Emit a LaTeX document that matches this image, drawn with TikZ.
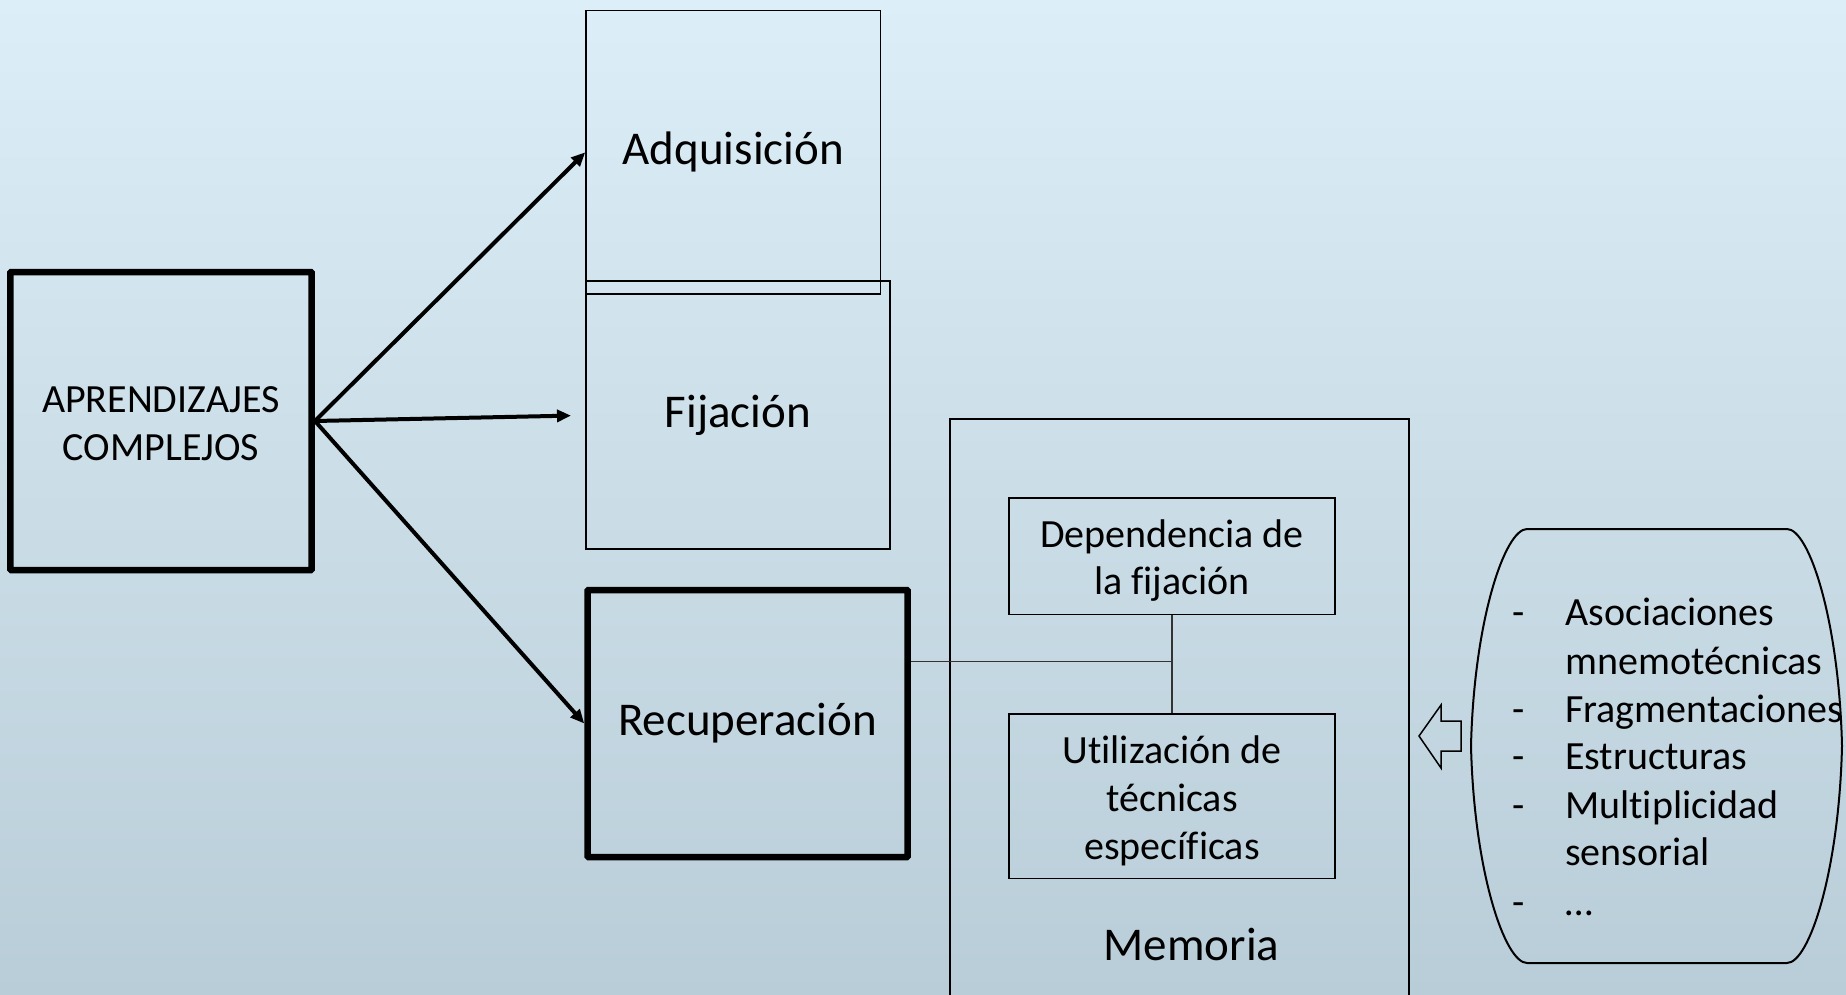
\documentclass[tikz,border=0pt]{standalone}
\usepackage{fontspec}
\setmainfont{Carlito}[Ligatures=CommonOff]
\usetikzlibrary{arrows.meta}
\definecolor{bgtop}{RGB}{220,238,247}
\definecolor{bgbot}{RGB}{185,205,216}
\begin{document}
\begin{tikzpicture}[x=1pt,y=-1pt,
  box/.style={draw=black, inner sep=0pt, line width=1.5pt},
  thickbox/.style={draw=black, inner sep=0pt, line width=6.5pt, rounded corners=1pt},
  big/.style={font=\fontsize{47}{56}\selectfont, align=center},
  med/.style={font=\fontsize{40}{47.5}\selectfont, align=center, inner sep=0pt},
  arr/.style={line width=4pt, -{Triangle[length=14pt,width=12pt]}},
  conn/.style={line width=1.3pt, draw=black!80},
  item/.style={font=\fontsize{40}{48}\selectfont, anchor=base west, inner sep=0pt}]
\useasboundingbox (0,0) rectangle (1846,995);
\shade[top color=bgtop, bottom color=bgbot] (0,0) rectangle (1846,995);

% main boxes
\node[thickbox, minimum width=301.4pt, minimum height=298pt] (apr) at (161,421) {};
\node[med] (aprtext) at (161,423.5) {APRENDIZAJES\\COMPLEJOS};
\node[box, big, minimum width=294.6pt, minimum height=283.4pt] (adq) at (733.3,152.3) {Adquisición};
\node[box, big, minimum width=304pt, minimum height=267.6pt] (fij) at (738,415) {Fijación};
\node[thickbox, big, minimum width=320.2pt, minimum height=267pt] (rec) at (747.6,723.5) {Recuperación};

% memoria
\node[draw=black, line width=2pt, inner sep=0pt, minimum width=459pt, minimum height=581pt] (mem) at (1179.5,709.5) {};
\node[big, inner sep=0pt] (memlabel) at (1191.5,944) {Memoria};
\node[box, minimum width=326pt, minimum height=116.5pt] (dep) at (1172,556) {};
\node[med] (deptext) at (1172,560.5) {Dependencia de\\la fijación};
\node[box, minimum width=326pt, minimum height=164.5pt] (uti) at (1172,796) {};
\node[med, font=\fontsize{40}{48}\selectfont] (utitext) at (1172,800.5) {Utilización de\\técnicas\\específicas};

% connectors
\coordinate (j) at (1172,661.6);
\draw[conn] (dep.south) -- (uti.north);
\draw[conn] (rec.east |- j) -- (j);

\coordinate (f2) at (571,415.6);
\draw[arr] (apr.east) -- (adq.west);
\draw[arr] (apr.east) -- (f2);
\draw[arr] (apr.east) -- (rec.west);

% block arrow
\draw[line width=1.5pt, line join=miter] (1419,736) -- (1441,705) -- (1441,721) -- (1461,721) -- (1461,751) -- (1441,751) -- (1441,768) -- cycle;

% list shape
\draw[line width=2pt] (1527,529) -- (1787,529)
  .. controls (1809,529) and (1839,620) .. (1842,746)
  .. controls (1839,872) and (1809,963) .. (1787,963)
  -- (1527,963)
  .. controls (1505,963) and (1474,872) .. (1471,746)
  .. controls (1474,620) and (1505,529) .. cycle;

\node[item] (d1) at (1512,625) {-};
\node[item] (t1) at (1565,625) {Asociaciones};
\node[item] (t1b) at (1565,674) {mnemotécnicas};
\node[item] (d2) at (1512,722.5) {-};
\node[item] (t2) at (1565,722.5) {Fragmentaciones};
\node[item] (d3) at (1512,769.5) {-};
\node[item] (t3) at (1565,769.5) {Estructuras};
\node[item] (d4) at (1512,818.5) {-};
\node[item] (t4) at (1565,818.5) {Multiplicidad};
\node[item] (t4b) at (1565,865.5) {sensorial};
\node[item] (d5) at (1512,915) {-};
\node[item] (t5) at (1565,915) {…};
\end{tikzpicture}
\end{document}
